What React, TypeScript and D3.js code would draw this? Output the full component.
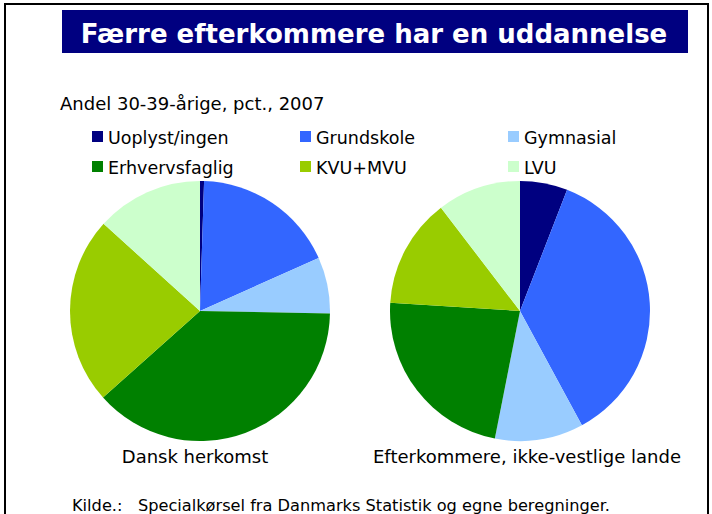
import * as d3 from 'd3';

// Andel 30-39-årige, pct., 2007
const categories = ['Uoplyst/ingen', 'Grundskole', 'Gymnasial', 'Erhvervsfaglig', 'KVU+MVU', 'LVU'];
const danskHerkomst = [0.5, 17.8, 7.0, 38.1, 23.3, 13.3];
const efterkommere = [5.9, 36.2, 11.0, 22.9, 13.6, 10.4];
const pieTitles = ['Dansk herkomst', 'Efterkommere, ikke-vestlige lande'];

const colors = ['#000080', '#3366FF', '#99CCFF', '#008000', '#99CC00', '#CCFFCC'];

const W = 712;
const H = 514;
const font = 'DejaVu Sans, Verdana, sans-serif';

const App = () => {
  const color = d3.scaleOrdinal<string, string>().domain(categories).range(colors);
  const pie = d3.pie<number>().sort(null).value((d) => d);
  const arc = d3.arc<d3.PieArcDatum<number>>().innerRadius(0).outerRadius(130);

  const series = [danskHerkomst, efterkommere];
  const centers = [200, 520];

  // legend is 3 columns x 2 rows
  const legendX = d3.scalePoint<number>().domain([0, 1, 2]).range([92, 508]);
  const legendY = d3.scalePoint<number>().domain([0, 1]).range([137, 167]);

  return (
    <svg
      width={W}
      height={H}
      style={{ position: 'absolute', left: 0, top: 0, background: '#fff' }}
      fontFamily={font}
    >
      {/* frame */}
      <path d={`M5,${H + 5} V4 H708 V${H + 5}`} fill="none" stroke="#000" strokeWidth={2} />

      {/* title */}
      <rect x={62} y={10} width={626} height={43} fill="#000080" />
      <text x={374} y={43} textAnchor="middle" fill="#fff" fontWeight="bold" fontSize={26}>
        Færre efterkommere har en uddannelse
      </text>

      <text x={60} y={110} fontSize={18} fill="#000">
        Andel 30-39-årige, pct., 2007
      </text>

      {/* legend */}
      {categories.map((c, i) => {
        const x = legendX(i % 3)!;
        const y = legendY(Math.floor(i / 3))!;
        return (
          <g key={c}>
            <rect x={x} y={y - 6} width={11} height={11} fill={color(c)} />
            <text x={x + 16} y={y + 7} fontSize={17.5} fill="#000">
              {c}
            </text>
          </g>
        );
      })}

      {/* pies */}
      {series.map((vals, k) => (
        <g key={k} transform={`translate(${centers[k]},311)`}>
          {pie(vals).map((d, i) => (
            <path key={i} d={arc(d) || ''} fill={color(categories[i])} />
          ))}
          <text x={k === 0 ? -5 : 7} y={152} textAnchor="middle" fontSize={18} fill="#000">
            {pieTitles[k]}
          </text>
        </g>
      ))}

      <text x={72} y={511} fontSize={16.2} fill="#000" style={{ whiteSpace: 'pre' }}>
        {'Kilde.:   Specialkørsel fra Danmarks Statistik og egne beregninger.'}
      </text>
    </svg>
  );
};

export default App;
